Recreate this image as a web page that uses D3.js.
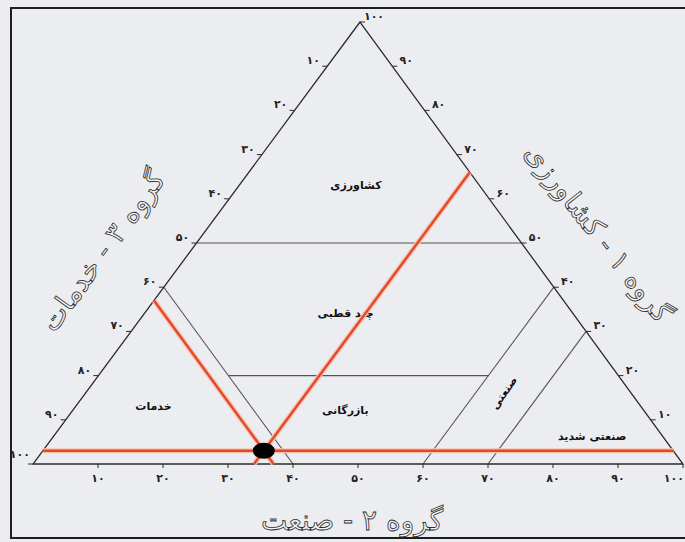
<!DOCTYPE html>
<html lang="fa">
<head>
    <meta charset="UTF-8">
    <title>مثلث ساختار اقتصادی</title>
    <script src="https://d3js.org/d3.v7.min.js"></script>
    <style>
        html, body { margin: 0; padding: 0; background: #ebecf0; }
        svg { display: block; font-family: "DejaVu Sans", sans-serif; }
        .edge { stroke: #2b2b2b; stroke-width: 1.3; fill: none; }
        .grid { stroke: #555; stroke-width: 1.1; }
        .tick { stroke: #2b2b2b; stroke-width: 1; }
        .tlabel { font-size: 11px; font-weight: bold; fill: #222; }
        .zone { font-size: 11px; font-weight: bold; fill: #111; }
        .title { font-size: 28px; fill: #f3f3f5; stroke: #2a2a2a; stroke-width: 0.8; }
    </style>
</head>
<body>
    <svg width="685" height="542"></svg>

    <script>
        // [A, I, S] = کشاورزی، صنعت، خدمات
        const ticks = [10, 20, 30, 40, 50, 60, 70, 80, 90, 100];
        const zoneLines = [
            { a: [50, 0, 50], b: [50, 50, 0] },
            { a: [40, 0, 60], b: [0, 40, 60] },
            { a: [20, 20, 60], b: [20, 60, 20] },
            { a: [40, 60, 0], b: [0, 60, 40] },
            { a: [30, 70, 0], b: [0, 70, 30] }
        ];
        const zoneNames = [
            { text: "کشاورزی", p: [63, 18, 19], rot: 0 },
            { text: "چند قطبی", p: [34, 31, 35], rot: 0 },
            { text: "بازرگانی", p: [12, 42, 46], rot: 0 },
            { text: "خدمات", p: [13, 12, 75], rot: 0 },
            { text: "صنعتی", p: [16, 64.5, 19.5], rot: -55 },
            { text: "صنعتی شدید", p: [6, 83, 11], rot: 0 }
        ];
        const point = [3, 34, 63];
        const redLines = [
            { a: [3, 0, 97], b: [3, 97, 0] },
            { a: [0, 34, 66], b: [66, 34, 0] },
            { a: [37, 0, 63], b: [0, 37, 63] }
        ];
        const titles = [
            { text: "گروه ۲ - صنعت", x: 352, y: 522, rot: 0 },
            { text: "گروه ۳ - خدمات", x: 104, y: 252, rot: -54 },
            { text: "گروه ۱ - کشاورزی", x: 597, y: 234, rot: 52 }
        ];

        const fa = n => String(n).replace(/\d/g, d => "۰۱۲۳۴۵۶۷۸۹"[d]);

        const svg = d3.select("svg");
        const xL = 33, xR = 683, xA = 360;
        const yScale = d3.scaleLinear().domain([0, 100]).range([464, 22]);
        const px = ([a, i, s]) => (s * xL + i * xR + a * xA) / 100;
        const py = ([a]) => yScale(a);

        // frame
        svg.append("rect")
            .attr("x", 11).attr("y", 8)
            .attr("width", 690).attr("height", 530)
            .attr("fill", "#ecedf1")
            .attr("stroke", "#1e1e1e").attr("stroke-width", 2);

        // zone lines
        svg.selectAll(".grid").data(zoneLines).enter().append("line")
            .attr("class", "grid")
            .attr("x1", d => px(d.a)).attr("y1", d => py(d.a))
            .attr("x2", d => px(d.b)).attr("y2", d => py(d.b));

        // triangle
        const corners = [[100, 0, 0], [0, 0, 100], [0, 100, 0]];
        svg.append("path")
            .attr("class", "edge")
            .attr("d", d3.line().x(px).y(py)(corners) + "Z");

        // ticks: bottom (I), left (S), right (A)
        const bottom = svg.append("g");
        ticks.forEach(v => {
            const p = [0, v, 100 - v];
            const last = v === 100;
            bottom.append("line").attr("class", "tick")
                .attr("x1", px(p)).attr("x2", px(p))
                .attr("y1", py(p)).attr("y2", py(p) + 4);
            bottom.append("text").attr("class", "tlabel")
                .attr("x", last ? 684 : px(p)).attr("y", py(p) + 18)
                .attr("text-anchor", last ? "end" : "middle").text(fa(v));
        });
        const left = svg.append("g");
        ticks.forEach(v => {
            const p = [100 - v, 0, v];
            const last = v === 100;
            left.append("line").attr("class", "tick")
                .attr("x1", px(p) - 5).attr("x2", px(p))
                .attr("y1", py(p)).attr("y2", py(p));
            left.append("text").attr("class", "tlabel")
                .attr("x", last ? px(p) - 3 : px(p) - 14)
                .attr("y", last ? py(p) - 6 : py(p) - 2)
                .attr("text-anchor", last ? "end" : "middle").text(fa(v));
        });
        const right = svg.append("g");
        ticks.forEach(v => {
            const p = [v, 100 - v, 0];
            right.append("line").attr("class", "tick")
                .attr("x1", px(p)).attr("x2", px(p) + 5)
                .attr("y1", py(p)).attr("y2", py(p));
            right.append("text").attr("class", "tlabel")
                .attr("x", px(p) + 14).attr("y", py(p) - 2)
                .attr("text-anchor", "middle").text(fa(v));
        });

        // zone names
        svg.selectAll(".zone").data(zoneNames).enter().append("text")
            .attr("class", "zone")
            .attr("text-anchor", "middle")
            .attr("dominant-baseline", "middle")
            .attr("transform", d => `translate(${px(d.p)},${py(d.p)}) rotate(${d.rot})`)
            .text(d => d.text);

        // red lines
        redLines.forEach(d => {
            svg.append("line")
                .attr("x1", px(d.a)).attr("y1", py(d.a))
                .attr("x2", px(d.b)).attr("y2", py(d.b))
                .attr("stroke", "#f6c4ae").attr("stroke-width", 5);
        });
        redLines.forEach(d => {
            svg.append("line")
                .attr("x1", px(d.a)).attr("y1", py(d.a))
                .attr("x2", px(d.b)).attr("y2", py(d.b))
                .attr("stroke", "#e4472b").attr("stroke-width", 2.4);
        });

        svg.append("ellipse")
            .attr("cx", px(point)).attr("cy", py(point))
            .attr("rx", 11).attr("ry", 8)
            .attr("fill", "#000");

        // axis titles
        svg.selectAll(".title").data(titles).enter().append("text")
            .attr("class", "title")
            .attr("text-anchor", "middle")
            .attr("dominant-baseline", "middle")
            .attr("transform", d => `translate(${d.x},${d.y}) rotate(${d.rot})`)
            .text(d => d.text);
    </script>
</body>
</html>
